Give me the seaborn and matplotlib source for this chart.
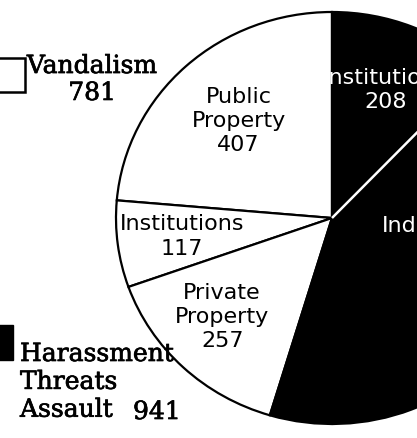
import numpy as np
import matplotlib
matplotlib.use("Agg")
import matplotlib.pyplot as plt
import matplotlib.patheffects as pe
import seaborn as sns
from matplotlib.patches import Rectangle

# slices, counter-clockwise from 12 o'clock
slice_names = ["Public\nProperty", "Institutions", "Private\nProperty", "Individuals", "Institutions"]
slice_values = [407, 117, 257, 733, 208]
slice_group = ["Vandalism", "Vandalism", "Vandalism", "Harassment", "Harassment"]

group_names = ["Vandalism", "Harassment\nThreats\nAssault"]
group_totals = [781, 941]

sns.set_theme(style="white")
plt.rcParams["font.family"] = ["DejaVu Sans"]
plt.rcParams["text.color"] = "black"

W, H = 417, 438
fig = plt.figure(figsize=(W / 100, H / 100), dpi=100)
fig.patch.set_facecolor("white")

# pie centre / radii in pixels (pie is cut off on the right)
cx, cy, rx, ry = 332, 218, 216, 206
ax = fig.add_axes([(cx - rx) / W, (H - cy - ry) / H, 2 * rx / W, 2 * ry / H])

colors = ["white" if g == "Vandalism" else "black" for g in slice_group]
wedges, _ = ax.pie(slice_values, colors=colors, startangle=90, counterclock=True,
                   radius=1, wedgeprops=dict(edgecolor="black", linewidth=1.6))
ax.set_aspect("auto")
ax.set_xlim(-1, 1)
ax.set_ylim(-1, 1)
ax.axis("off")

# white divider between the two black slices
theta = np.deg2rad(wedges[3].theta2)
ax.plot([0, np.cos(theta)], [0, np.sin(theta)], color="white", lw=1.8, solid_capstyle="butt")

# slice labels
label_r = [0.64, 0.70, 0.70, 0.52, 0.67]
label_shift = [0, 0, -3, 19, 0]  # degrees
for w, name, val, grp, r, sh in zip(wedges, slice_names, slice_values, slice_group, label_r, label_shift):
    mid = np.deg2rad((w.theta1 + w.theta2) / 2 + sh)
    tc = "black" if grp == "Vandalism" else "white"
    ax.text(r * np.cos(mid), r * np.sin(mid), f"{name}\n{val}", ha="center", va="center",
            fontsize=16, color=tc, linespacing=1.27)

# group legend (serif, a bit heavy like the print)
serif = ["DejaVu Serif"]
heavy = [pe.withStroke(linewidth=0.5, foreground="black")]
fig.text(92 / W, 1 - 80 / H, f"{group_names[0]}\n{group_totals[0]}", ha="center", va="center",
         fontsize=18, family=serif, linespacing=1.22, color="black", path_effects=heavy)
fig.patches.append(Rectangle((-9 / W, 1 - 92 / H), 34 / W, 34 / H, transform=fig.transFigure,
                             facecolor="white", edgecolor="black", lw=1.8, figure=fig))

fig.text(20 / W, 1 - 343 / H, group_names[1], ha="left", va="top",
         fontsize=18, family=serif, linespacing=1.27, color="black", path_effects=heavy)
fig.text(133 / W, 1 - 419 / H, str(group_totals[1]), ha="left", va="baseline",
         fontsize=18, family=serif, color="black", path_effects=heavy)
fig.patches.append(Rectangle((-22 / W, 1 - 360 / H), 35 / W, 35 / H, transform=fig.transFigure,
                             facecolor="black", edgecolor="black", lw=1, figure=fig))

fig.savefig("out.png", dpi=100)
